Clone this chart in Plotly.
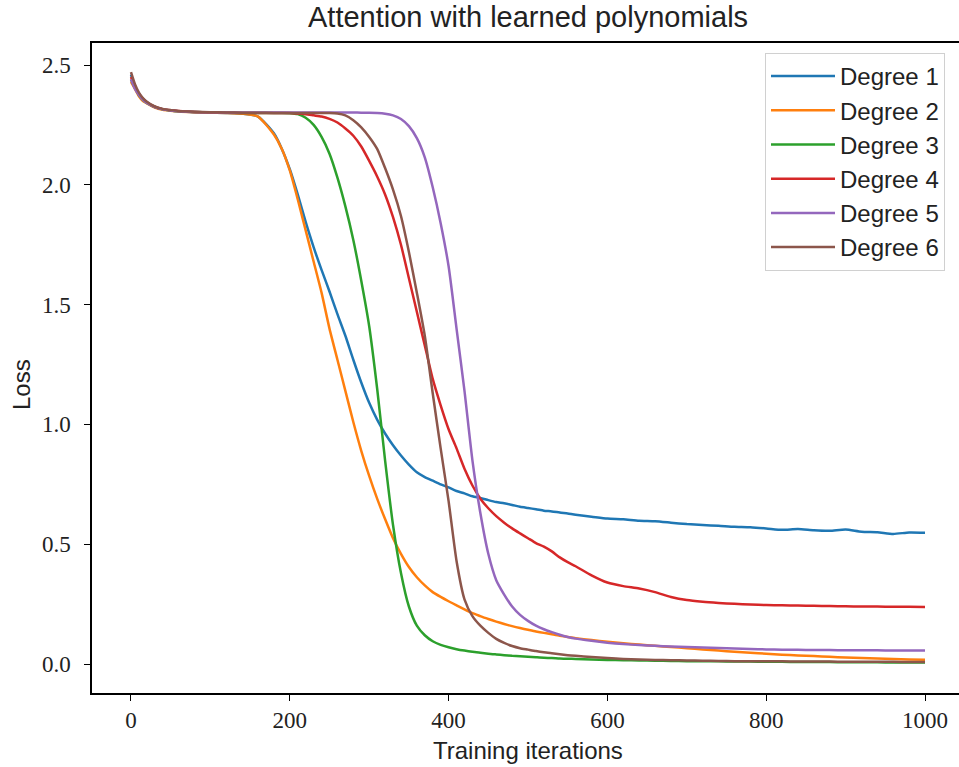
import plotly.graph_objects as go

# Training iterations at which the loss was logged
iterations = [0, 5, 10, 15, 20, 30, 40, 50, 60, 80, 100, 120, 140, 160, 180,
              190, 200, 210, 220, 230, 240, 250, 260, 270, 280, 290, 300, 310, 320,
              330, 340, 350, 360, 370, 380, 390, 400, 410, 420, 430, 440, 450, 460,
              470, 480, 490, 500, 510, 520, 530, 540, 550, 560,
              580, 600, 620, 640, 660, 680, 700, 720, 740, 760, 780, 800, 820, 840,
              860, 880, 900, 920, 940, 960, 980, 1000]

loss_deg1 = [2.46, 2.41, 2.38, 2.36, 2.345, 2.325, 2.315, 2.31, 2.307, 2.303, 2.301, 2.30, 2.297, 2.285, 2.215,
             2.15, 2.065, 1.96, 1.845, 1.74, 1.645, 1.555, 1.46, 1.37, 1.27, 1.175, 1.09, 1.02, 0.962,
             0.913, 0.87, 0.832, 0.80, 0.78, 0.765, 0.75, 0.737, 0.722, 0.712, 0.70, 0.693, 0.684, 0.676,
             0.671, 0.664, 0.656, 0.651, 0.646, 0.64, 0.637, 0.632, 0.628, 0.623,
             0.615, 0.607, 0.604, 0.598, 0.596, 0.59, 0.584, 0.58, 0.577, 0.573, 0.571, 0.566, 0.560, 0.563,
             0.558, 0.556, 0.561, 0.552, 0.550, 0.543, 0.549, 0.548]

loss_deg2 = [2.43, 2.40, 2.37, 2.35, 2.34, 2.322, 2.313, 2.309, 2.306, 2.303, 2.301, 2.30, 2.297, 2.285, 2.21,
             2.15, 2.06, 1.94, 1.81, 1.68, 1.55, 1.40, 1.27, 1.14, 1.01, 0.89, 0.785, 0.69, 0.605,
             0.525, 0.46, 0.405, 0.362, 0.328, 0.30, 0.28, 0.262, 0.245, 0.228, 0.212, 0.20, 0.188, 0.177,
             0.167, 0.158, 0.15, 0.143, 0.136, 0.13, 0.124, 0.118, 0.113, 0.108,
             0.100, 0.093, 0.087, 0.081, 0.076, 0.071, 0.066, 0.061, 0.056, 0.051, 0.047, 0.043, 0.039, 0.036,
             0.033, 0.030, 0.027, 0.025, 0.023, 0.021, 0.019, 0.018]

loss_deg3 = [2.44, 2.405, 2.375, 2.355, 2.342, 2.325, 2.315, 2.31, 2.307, 2.304, 2.302, 2.301, 2.30, 2.30, 2.30,
             2.30, 2.299, 2.295, 2.28, 2.25, 2.20, 2.13, 2.03, 1.91, 1.77, 1.60, 1.41, 1.15, 0.85,
             0.58, 0.38, 0.24, 0.16, 0.12, 0.095, 0.08, 0.07, 0.062, 0.056, 0.051, 0.047, 0.043, 0.04,
             0.037, 0.034, 0.032, 0.03, 0.028, 0.026, 0.025, 0.023, 0.022, 0.021,
             0.019, 0.017, 0.016, 0.015, 0.014, 0.013, 0.012, 0.011, 0.011, 0.010, 0.010, 0.009, 0.009, 0.008,
             0.008, 0.008, 0.007, 0.007, 0.007, 0.006, 0.006, 0.006]

loss_deg4 = [2.45, 2.41, 2.38, 2.36, 2.345, 2.326, 2.316, 2.311, 2.308, 2.304, 2.302, 2.301, 2.30, 2.30, 2.30,
             2.30, 2.30, 2.298, 2.295, 2.29, 2.285, 2.275, 2.26, 2.235, 2.205, 2.16, 2.10, 2.035, 1.96,
             1.865, 1.75, 1.61, 1.47, 1.33, 1.19, 1.08, 0.98, 0.90, 0.815, 0.745, 0.69, 0.65, 0.617,
             0.59, 0.566, 0.545, 0.525, 0.505, 0.49, 0.47, 0.445, 0.425, 0.408,
             0.37, 0.34, 0.325, 0.315, 0.30, 0.28, 0.267, 0.26, 0.255, 0.251, 0.248, 0.246, 0.245, 0.244,
             0.243, 0.242, 0.241, 0.240, 0.240, 0.239, 0.239, 0.238]

loss_deg5 = [2.44, 2.40, 2.375, 2.355, 2.342, 2.325, 2.315, 2.31, 2.307, 2.304, 2.303, 2.302, 2.302, 2.302, 2.302,
             2.302, 2.302, 2.302, 2.302, 2.302, 2.302, 2.302, 2.302, 2.302, 2.302, 2.301, 2.301, 2.30, 2.297,
             2.29, 2.275, 2.245, 2.195, 2.115, 1.99, 1.84, 1.66, 1.40, 1.14, 0.85, 0.63, 0.46, 0.35,
             0.29, 0.24, 0.205, 0.18, 0.16, 0.145, 0.133, 0.122, 0.113, 0.106,
             0.097, 0.089, 0.083, 0.079, 0.076, 0.073, 0.071, 0.069, 0.067, 0.065, 0.063, 0.061, 0.060, 0.059,
             0.058, 0.058, 0.057, 0.057, 0.057, 0.056, 0.056, 0.056]

loss_deg6 = [2.47, 2.42, 2.385, 2.362, 2.347, 2.327, 2.317, 2.312, 2.308, 2.305, 2.303, 2.302, 2.301, 2.301, 2.30,
             2.30, 2.30, 2.30, 2.30, 2.30, 2.30, 2.30, 2.298, 2.29, 2.27, 2.24, 2.20, 2.15, 2.07,
             1.98, 1.87, 1.72, 1.55, 1.37, 1.13, 0.90, 0.68, 0.43, 0.27, 0.20, 0.16, 0.13, 0.105,
             0.088, 0.075, 0.066, 0.06, 0.054, 0.049, 0.045, 0.041, 0.037, 0.034,
             0.029, 0.025, 0.021, 0.019, 0.017, 0.016, 0.015, 0.014, 0.013, 0.012, 0.012, 0.011, 0.011, 0.010,
             0.010, 0.010, 0.009, 0.009, 0.009, 0.009, 0.008, 0.008]

series_names = ["Degree 1", "Degree 2", "Degree 3", "Degree 4", "Degree 5", "Degree 6"]
series_values = [loss_deg1, loss_deg2, loss_deg3, loss_deg4, loss_deg5, loss_deg6]
series_colors = ["#1f77b4", "#ff7f0e", "#2ca02c", "#d62728", "#9467bd", "#8c564b"]

x_ticks = [0, 200, 400, 600, 800, 1000]
y_ticks = [0.0, 0.5, 1.0, 1.5, 2.0, 2.5]

SANS = "Liberation Sans, Arial, sans-serif"
SERIF = "Liberation Serif, DejaVu Serif, serif"

fig = go.Figure()
for name, vals, col in zip(series_names, series_values, series_colors):
    assert len(vals) == len(iterations)
    fig.add_trace(go.Scatter(
        x=iterations, y=vals, mode="lines", name=name,
        line=dict(color=col, width=2.5, shape="spline", smoothing=0.6),
    ))

W, H = 959, 767
L, R, T, B = 92, 0, 43, 74
PW, PH = W - L - R, H - T - B

fig.update_layout(
    width=W, height=H,
    margin=dict(l=L, r=R, t=T, b=B),
    paper_bgcolor="white", plot_bgcolor="white",
    showlegend=True,
    legend=dict(
        x=(765 - L) / PW, y=1 - (53 - T) / PH,
        xanchor="left", yanchor="top",
        bgcolor="rgba(255,255,255,0.85)", bordercolor="#d0d0d0", borderwidth=1,
        font=dict(family=SANS, size=24, color="#222"),
        itemwidth=64,
    ),
    xaxis=dict(
        range=[-49.1, 1042.8], tickvals=x_ticks,
        showgrid=False, zeroline=False,
        showline=True, linecolor="black", linewidth=1.5, mirror=True,
        ticks="outside", ticklen=6, tickwidth=1.3, tickcolor="black",
        tickfont=dict(family=SERIF, size=23, color="#222"),
    ),
    yaxis=dict(
        range=[-0.121, 2.592], tickvals=y_ticks, tickformat=".1f",
        showgrid=False, zeroline=False,
        showline=True, linecolor="black", linewidth=1.5, mirror=False,
        ticks="outside", ticklen=6, tickwidth=1.3, tickcolor="black",
        ticklabelstandoff=9,
        tickfont=dict(family=SERIF, size=23, color="#222"),
    ),
    annotations=[
        dict(text="Attention with learned polynomials", xref="paper", yref="paper",
             x=(528 - L) / PW, y=1 + 26 / PH, xanchor="center", yanchor="middle",
             showarrow=False, font=dict(family=SANS, size=29, color="#222")),
        dict(text="Training iterations", xref="paper", yref="paper",
             x=(528 - L) / PW, y=-(750 - (H - B)) / PH, xanchor="center", yanchor="middle",
             showarrow=False, font=dict(family=SANS, size=24, color="#222")),
        dict(text="Loss", xref="paper", yref="paper", textangle=-90,
             x=-(L - 21) / PW, y=1 - (385 - T) / PH, xanchor="center", yanchor="middle",
             showarrow=False, font=dict(family=SANS, size=24, color="#222")),
    ],
)

fig.write_html("out.html")
